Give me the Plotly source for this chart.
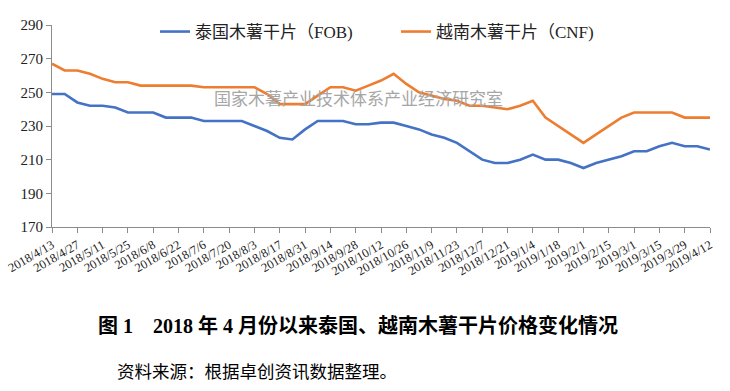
import plotly.graph_objects as go

dates = [
    "2018/4/13", "2018/4/20", "2018/4/27", "2018/5/4", "2018/5/11", "2018/5/18",
    "2018/5/25", "2018/6/1", "2018/6/8", "2018/6/15", "2018/6/22", "2018/6/29",
    "2018/7/6", "2018/7/13", "2018/7/20", "2018/7/27", "2018/8/3", "2018/8/10",
    "2018/8/17", "2018/8/24", "2018/8/31", "2018/9/7", "2018/9/14", "2018/9/21",
    "2018/9/28", "2018/10/5", "2018/10/12", "2018/10/19", "2018/10/26", "2018/11/2",
    "2018/11/9", "2018/11/16", "2018/11/23", "2018/11/30", "2018/12/7", "2018/12/14",
    "2018/12/21", "2018/12/28", "2019/1/4", "2019/1/11", "2019/1/18", "2019/1/25",
    "2019/2/1", "2019/2/8", "2019/2/15", "2019/2/22", "2019/3/1", "2019/3/8",
    "2019/3/15", "2019/3/22", "2019/3/29", "2019/4/5", "2019/4/12",
]

thai_fob = [
    249, 249, 244, 242, 242, 241, 238, 238, 238, 235, 235, 235, 233, 233, 233, 233,
    230, 227, 223, 222, 228, 233, 233, 233, 231, 231, 232, 232, 230, 228, 225, 223,
    220, 215, 210, 208, 208, 210, 213, 210, 210, 208, 205, 208, 210, 212, 215, 215,
    218, 220, 218, 218, 216,
]

vietnam_cnf = [
    267, 263, 263, 261, 258, 256, 256, 254, 254, 254, 254, 254, 253, 253, 253, 253,
    253, 249, 243, 243, 243, 248, 253, 253, 251, 254, 257, 261, 255, 250, 248, 246,
    245, 242, 242, 241, 240, 242, 245, 235, 230, 225, 220, 225, 230, 235, 238, 238,
    238, 238, 235, 235, 235,
]

series_names = ["泰国木薯干片（FOB)", "越南木薯干片（CNF)"]
y_ticks = [170, 190, 210, 230, 250, 270, 290]
tick_labels = dates[::2]

W, H = 730, 391
X0, X1, Y0, Y1 = 52, 710, 25, 227  # plot area in page pixels
L, R, T, B = X0, W - X1, Y0, H - Y1
PW, PH = X1 - X0, Y1 - Y0

def px_x(x):
    return (x - X0) / PW

def px_y(y):
    return (Y1 - y) / PH

fig = go.Figure()
fig.add_trace(go.Scatter(x=dates, y=thai_fob, mode="lines", name=series_names[0],
                         line=dict(color="#4472C4", width=2.6)))
fig.add_trace(go.Scatter(x=dates, y=vietnam_cnf, mode="lines", name=series_names[1],
                         line=dict(color="#ED7D31", width=2.6)))

fig.update_layout(
    width=W, height=H,
    margin=dict(l=L, r=R, t=T, b=B, autoexpand=False),
    paper_bgcolor="white", plot_bgcolor="white",
    showlegend=True,
    legend=dict(orientation="h", x=px_x(155), y=px_y(32), xanchor="left", yanchor="middle",
                font=dict(family="Liberation Serif, Noto Sans CJK SC", size=17, color="#222"),
                entrywidth=196, bgcolor="rgba(0,0,0,0)"),
    xaxis=dict(
        type="category", categoryorder="array", categoryarray=dates,
        range=[0, len(dates) - 1], automargin=False,
        tickmode="array", tickvals=tick_labels, ticktext=tick_labels,
        tickangle=-30, ticks="outside", ticklen=5, tickcolor="#8c8c8c",
        showline=True, linecolor="#8c8c8c", linewidth=1,
        showgrid=False, zeroline=False,
        tickfont=dict(family="Liberation Serif", size=12.5, color="#222"),
    ),
    yaxis=dict(
        range=[170, 290], tickvals=y_ticks, ticks="outside", ticklen=5, automargin=False,
        tickcolor="#8c8c8c", showline=True, linecolor="#8c8c8c", linewidth=1,
        showgrid=False, zeroline=False,
        tickfont=dict(family="Liberation Serif", size=15, color="#222"),
    ),
)

fig.add_annotation(text="国家木薯产业技术体系产业经济研究室", xref="paper", yref="paper",
                   x=px_x(358), y=px_y(97), showarrow=False,
                   font=dict(family="Noto Sans CJK SC", size=17, color="#a6a6a6"))
fig.add_annotation(text="<b>图 1　2018 年 4 月份以来泰国、越南木薯干片价格变化情况</b>",
                   xref="paper", yref="paper", x=px_x(358), y=px_y(325), showarrow=False,
                   xanchor="center", yanchor="middle",
                   font=dict(family="Liberation Serif, Noto Sans CJK SC", size=20, color="#000"))
fig.add_annotation(text="资料来源：根据卓创资讯数据整理。", xref="paper", yref="paper",
                   x=px_x(115), y=px_y(372), showarrow=False, xanchor="left", yanchor="middle",
                   font=dict(family="Liberation Serif, Noto Sans CJK SC", size=17.5, color="#000"))

fig.write_html("out.html", config={"displayModeBar": False},
               post_script="document.body.style.margin='0';")
